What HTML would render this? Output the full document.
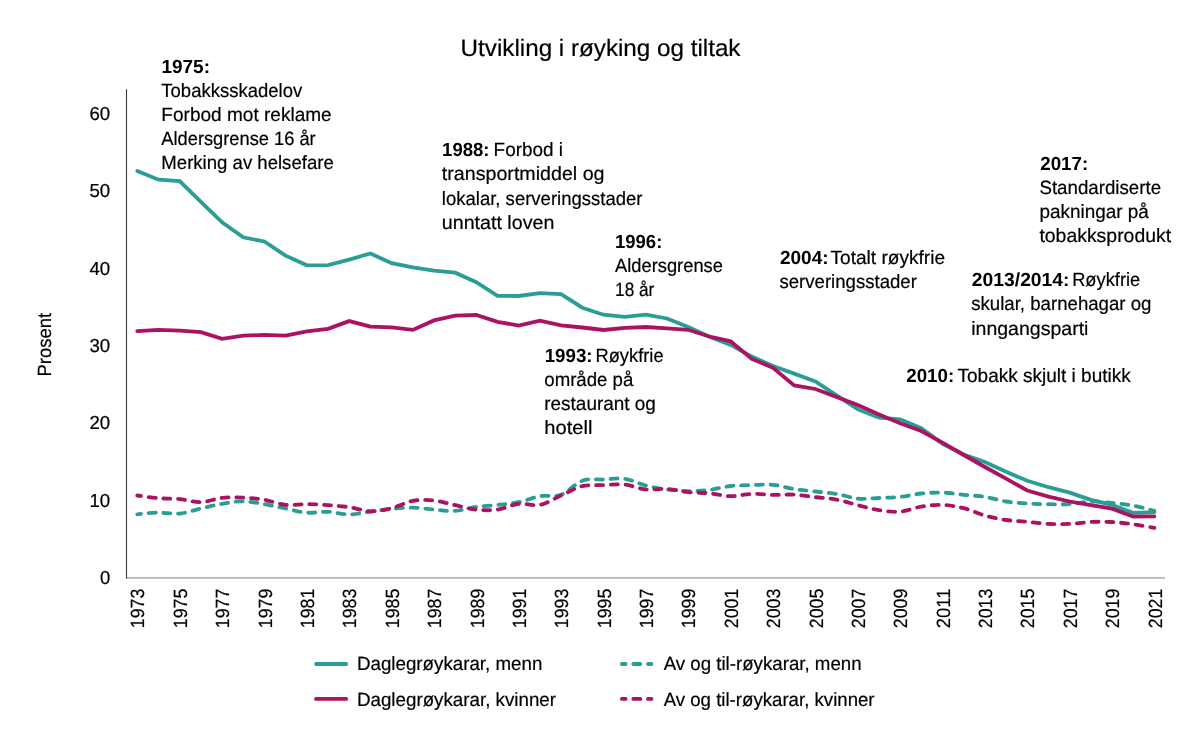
<!DOCTYPE html>
<html lang="nn">
<head>
<meta charset="utf-8">
<title>Utvikling i røyking og tiltak</title>
<style>
html,body{margin:0;padding:0;background:#ffffff;}
body{width:1200px;height:747px;overflow:hidden;font-family:"Liberation Sans",Arial,sans-serif;}
svg{display:block;}
</style>
</head>
<body>
<svg width="1200" height="747" viewBox="0 0 1200 747">
<rect width="1200" height="747" fill="#ffffff"/>
<g id="lines" fill="none" stroke-linecap="round" stroke-linejoin="round" stroke-width="3.8">
<path d="M137.3,514.3 C140.8,514.0 151.4,512.7 158.5,512.6 C165.6,512.5 172.6,514.3 179.7,513.6 C186.7,512.9 193.8,510.1 200.9,508.5 C207.9,506.9 215.0,505.0 222.1,503.8 C229.1,502.6 236.2,501.2 243.2,501.3 C250.3,501.4 257.4,503.0 264.4,504.2 C271.5,505.4 278.6,507.1 285.6,508.5 C292.7,509.9 299.8,512.2 306.8,512.7 C313.9,513.2 320.9,511.5 328.0,511.8 C335.1,512.1 342.1,514.5 349.2,514.5 C356.3,514.5 363.3,512.5 370.4,511.6 C377.5,510.7 384.5,509.6 391.6,508.9 C398.6,508.2 405.7,507.5 412.8,507.6 C419.8,507.7 426.9,509.1 434.0,509.6 C441.0,510.2 448.1,511.3 455.2,510.9 C462.2,510.4 469.3,507.9 476.3,506.9 C483.4,505.9 490.5,505.7 497.5,504.9 C504.6,504.1 511.7,503.6 518.7,502.2 C525.8,500.8 532.8,497.4 539.9,496.2 C547.0,495.0 554.0,497.4 561.1,494.8 C568.2,492.2 575.2,483.4 582.3,480.8 C589.4,478.2 596.4,479.8 603.5,479.5 C610.5,479.2 617.6,477.8 624.7,478.8 C631.7,479.8 638.8,483.7 645.9,485.5 C652.9,487.3 660.0,488.6 667.0,489.5 C674.1,490.4 681.2,491.0 688.2,491.1 C695.3,491.2 702.4,490.8 709.4,489.9 C716.5,489.0 723.6,486.8 730.6,486.0 C737.7,485.2 744.7,485.3 751.8,485.1 C758.9,484.9 765.9,484.1 773.0,484.8 C780.1,485.5 787.1,488.0 794.2,489.1 C801.3,490.2 808.3,490.7 815.4,491.5 C822.4,492.3 829.5,492.7 836.6,493.9 C843.6,495.1 850.7,497.9 857.8,498.6 C864.8,499.3 871.9,498.3 879.0,498.0 C886.0,497.7 893.1,497.6 900.1,496.9 C907.2,496.1 914.3,494.2 921.3,493.5 C928.4,492.8 935.5,492.4 942.5,492.6 C949.6,492.8 956.6,494.1 963.7,494.8 C970.8,495.5 977.8,495.8 984.9,496.9 C992.0,498.0 999.0,500.4 1006.1,501.5 C1013.2,502.6 1020.2,503.1 1027.3,503.5 C1034.3,503.9 1041.4,504.1 1048.5,504.2 C1055.5,504.3 1062.6,504.4 1069.7,504.0 C1076.7,503.6 1083.8,501.7 1090.9,501.5 C1097.9,501.3 1105.0,502.2 1112.0,502.9 C1119.1,503.6 1126.2,504.3 1133.2,505.6 C1140.3,506.9 1150.9,510.0 1154.4,510.9" stroke="#2a9d94" stroke-dasharray="7 7.724" stroke-dashoffset="3.3"/>
<path d="M137.3,170.9 L158.5,179.7 L179.7,181.1 L200.9,201.8 L222.1,222.3 L243.2,237.3 L264.4,241.5 L285.6,255.7 L306.8,265.3 L328.0,265.2 L349.2,259.6 L370.4,253.5 L391.6,263.2 L412.8,267.3 L434.0,270.7 L455.2,272.7 L476.3,282.2 L497.5,295.9 L518.7,296.0 L539.9,293.2 L561.1,294.2 L582.3,307.7 L603.5,314.7 L624.7,316.9 L645.9,314.7 L667.0,318.5 L688.2,327.1 L709.4,336.8 L730.6,344.9 L751.8,356.6 L773.0,366.1 L794.2,373.6 L815.4,381.5 L836.6,395.4 L857.8,409.4 L879.0,417.6 L900.1,419.3 L921.3,428.2 L942.5,443.9 L963.7,454.5 L984.9,462.0 L1006.1,471.7 L1027.3,480.8 L1048.5,487.2 L1069.7,492.6 L1090.9,499.8 L1112.0,504.9 L1133.2,512.9 L1154.4,512.2" stroke="#2a9d94" stroke-linejoin="miter"/>
<path d="M137.3,331.2 L158.5,329.8 L179.7,330.7 L200.9,332.2 L222.1,338.9 L243.2,335.7 L264.4,334.9 L285.6,335.7 L306.8,331.4 L328.0,328.8 L349.2,321.1 L370.4,326.6 L391.6,327.4 L412.8,329.9 L434.0,320.4 L455.2,315.7 L476.3,315.0 L497.5,321.8 L518.7,325.6 L539.9,320.6 L561.1,325.3 L582.3,327.5 L603.5,330.0 L624.7,327.8 L645.9,327.0 L667.0,328.4 L688.2,329.8 L709.4,336.5 L730.6,341.3 L751.8,358.9 L773.0,367.8 L794.2,385.4 L815.4,389.0 L836.6,397.1 L857.8,404.9 L879.0,414.6 L900.1,423.2 L921.3,431.0 L942.5,442.7 L963.7,455.0 L984.9,467.0 L1006.1,478.7 L1027.3,490.5 L1048.5,496.6 L1069.7,501.5 L1090.9,505.2 L1112.0,508.6 L1133.2,516.5 L1154.4,516.3" stroke="#ab1262" stroke-linejoin="miter"/>
<path d="M137.3,495.5 C140.8,495.9 151.4,497.6 158.5,498.2 C165.6,498.8 172.6,498.4 179.7,499.1 C186.7,499.8 193.8,502.4 200.9,502.2 C207.9,502.0 215.0,498.6 222.1,497.9 C229.1,497.1 236.2,497.4 243.2,497.7 C250.3,498.0 257.4,498.6 264.4,499.8 C271.5,501.0 278.6,504.2 285.6,504.9 C292.7,505.6 299.8,504.1 306.8,504.2 C313.9,504.2 320.9,504.7 328.0,505.2 C335.1,505.7 342.1,506.2 349.2,507.2 C356.3,508.2 363.3,511.1 370.4,511.3 C377.5,511.5 384.5,509.9 391.6,508.2 C398.6,506.5 405.7,502.2 412.8,500.9 C419.8,499.6 426.9,499.8 434.0,500.5 C441.0,501.2 448.1,503.7 455.2,505.2 C462.2,506.7 469.3,508.9 476.3,509.6 C483.4,510.3 490.5,510.6 497.5,509.6 C504.6,508.6 511.7,504.6 518.7,503.8 C525.8,503.0 532.8,506.3 539.9,504.9 C547.0,503.5 554.0,498.6 561.1,495.5 C568.2,492.4 575.2,487.9 582.3,486.2 C589.4,484.5 596.4,485.4 603.5,485.1 C610.5,484.8 617.6,483.9 624.7,484.6 C631.7,485.3 638.8,488.8 645.9,489.5 C652.9,490.2 660.0,488.4 667.0,488.9 C674.1,489.3 681.2,491.5 688.2,492.2 C695.3,492.9 702.4,492.6 709.4,493.3 C716.5,494.0 723.6,496.1 730.6,496.2 C737.7,496.3 744.7,494.1 751.8,493.9 C758.9,493.7 765.9,494.8 773.0,494.9 C780.1,495.0 787.1,494.2 794.2,494.6 C801.3,495.0 808.3,496.4 815.4,497.2 C822.4,498.0 829.5,498.3 836.6,499.6 C843.6,500.9 850.7,503.4 857.8,505.2 C864.8,506.9 871.9,509.0 879.0,510.1 C886.0,511.2 893.1,512.2 900.1,511.6 C907.2,511.0 914.3,507.7 921.3,506.6 C928.4,505.5 935.5,504.6 942.5,504.9 C949.6,505.2 956.6,506.4 963.7,508.2 C970.8,510.0 977.8,513.6 984.9,515.6 C992.0,517.6 999.0,519.0 1006.1,520.0 C1013.2,521.0 1020.2,521.1 1027.3,521.8 C1034.3,522.4 1041.4,523.5 1048.5,523.9 C1055.5,524.2 1062.6,524.2 1069.7,523.9 C1076.7,523.6 1083.8,522.3 1090.9,522.0 C1097.9,521.7 1105.0,521.6 1112.0,522.0 C1119.1,522.4 1126.2,523.3 1133.2,524.3 C1140.3,525.3 1150.9,527.3 1154.4,527.9" stroke="#ab1262" stroke-dasharray="7 7.745" stroke-dashoffset="3.3"/>
<path d="M316.0,664 H346.2" stroke="#2a9d94"/>
<path d="M316.0,698.9 H346.2" stroke="#ab1262"/>
<path d="M621.9,664 H651.5" stroke="#2a9d94" stroke-dasharray="7 7.7" stroke-dashoffset="3.3"/>
<path d="M621.9,698.9 H651.5" stroke="#ab1262" stroke-dasharray="7 7.7" stroke-dashoffset="3.3"/>
</g>
<g id="axes" fill="none">
<path d="M126,577.9 H1164.9" stroke="#b7b7b7" stroke-width="1.6"/>
<path d="M126.5,89.3 V578.4" stroke="#3c3c3c" stroke-width="1.1"/>
</g>
<g id="labels" font-family="'Liberation Sans', Arial, sans-serif" fill="#000000" text-rendering="geometricPrecision">
<text id="t_title" x="460.64" y="56.3" font-size="23.8" stroke="#000000" stroke-width="0.2" textLength="279.83" lengthAdjust="spacingAndGlyphs" transform="rotate(0.01 460.64 56.3)">Utvikling i røyking og tiltak</text>
<text id="t_a1" x="161.47" y="72.6" font-size="19.0" font-weight="700" textLength="48.53" lengthAdjust="spacingAndGlyphs" transform="rotate(0.01 161.47 72.6)">1975:</text>
<text id="t_a2" x="161.34" y="96.8" font-size="19.3" stroke="#000000" stroke-width="0.2" textLength="140.88" lengthAdjust="spacingAndGlyphs" transform="rotate(0.01 161.34 96.8)">Tobakksskadelov</text>
<text id="t_a3" x="161.34" y="120.9" font-size="19.3" stroke="#000000" stroke-width="0.2" textLength="170.38" lengthAdjust="spacingAndGlyphs" transform="rotate(0.01 161.34 120.9)">Forbod mot reklame</text>
<text id="t_a4" x="161.34" y="145.0" font-size="19.3" stroke="#000000" stroke-width="0.2" textLength="154.34" lengthAdjust="spacingAndGlyphs" transform="rotate(0.01 161.34 145.0)">Aldersgrense 16 år</text>
<text id="t_a5" x="161.34" y="169.1" font-size="19.3" stroke="#000000" stroke-width="0.2" textLength="172.41" lengthAdjust="spacingAndGlyphs" transform="rotate(0.01 161.34 169.1)">Merking av helsefare</text>
<text id="t_b1" x="442.12" y="156.3" font-size="19.0" font-weight="700" textLength="47.38" lengthAdjust="spacingAndGlyphs" transform="rotate(0.01 442.12 156.3)">1988:</text>
<text id="t_b1b" x="493.60" y="156.3" font-size="19.3" stroke="#000000" stroke-width="0.2" textLength="69.41" lengthAdjust="spacingAndGlyphs" transform="rotate(0.01 493.60 156.3)">Forbod i</text>
<text id="t_b2" x="441.82" y="180.4" font-size="19.3" stroke="#000000" stroke-width="0.2" textLength="162.72" lengthAdjust="spacingAndGlyphs" transform="rotate(0.01 441.82 180.4)">transportmiddel og</text>
<text id="t_b3" x="441.82" y="204.5" font-size="19.3" stroke="#000000" stroke-width="0.2" textLength="200.68" lengthAdjust="spacingAndGlyphs" transform="rotate(0.01 441.82 204.5)">lokalar, serveringsstader</text>
<text id="t_b4" x="441.82" y="228.6" font-size="19.3" stroke="#000000" stroke-width="0.2" textLength="112.53" lengthAdjust="spacingAndGlyphs" transform="rotate(0.01 441.82 228.6)">unntatt loven</text>
<text id="t_c1" x="614.97" y="247.9" font-size="19.0" font-weight="700" textLength="47.36" lengthAdjust="spacingAndGlyphs" transform="rotate(0.01 614.97 247.9)">1996:</text>
<text id="t_c2" x="615.06" y="272.0" font-size="19.3" stroke="#000000" stroke-width="0.2" textLength="107.87" lengthAdjust="spacingAndGlyphs" transform="rotate(0.01 615.06 272.0)">Aldersgrense</text>
<text id="t_c3" x="615.06" y="296.1" font-size="19.3" stroke="#000000" stroke-width="0.2" textLength="39.30" lengthAdjust="spacingAndGlyphs" transform="rotate(0.01 615.06 296.1)">18 år</text>
<text id="t_d1" x="544.70" y="362.1" font-size="19.0" font-weight="700" textLength="47.84" lengthAdjust="spacingAndGlyphs" transform="rotate(0.01 544.70 362.1)">1993:</text>
<text id="t_d1b" x="595.50" y="362.1" font-size="19.3" stroke="#000000" stroke-width="0.2" textLength="68.06" lengthAdjust="spacingAndGlyphs" transform="rotate(0.01 595.50 362.1)">Røykfrie</text>
<text id="t_d2" x="544.29" y="386.2" font-size="19.3" stroke="#000000" stroke-width="0.2" textLength="89.01" lengthAdjust="spacingAndGlyphs" transform="rotate(0.01 544.29 386.2)">område på</text>
<text id="t_d3" x="544.29" y="410.2" font-size="19.3" stroke="#000000" stroke-width="0.2" textLength="111.61" lengthAdjust="spacingAndGlyphs" transform="rotate(0.01 544.29 410.2)">restaurant og</text>
<text id="t_d4" x="544.29" y="434.3" font-size="19.3" stroke="#000000" stroke-width="0.2" textLength="48.14" lengthAdjust="spacingAndGlyphs" transform="rotate(0.01 544.29 434.3)">hotell</text>
<text id="t_e1" x="779.96" y="263.5" font-size="19.0" font-weight="700" textLength="48.59" lengthAdjust="spacingAndGlyphs" transform="rotate(0.01 779.96 263.5)">2004:</text>
<text id="t_e1b" x="830.50" y="263.5" font-size="19.3" stroke="#000000" stroke-width="0.2" textLength="114.59" lengthAdjust="spacingAndGlyphs" transform="rotate(0.01 830.50 263.5)">Totalt røykfrie</text>
<text id="t_e2" x="779.44" y="287.7" font-size="19.3" stroke="#000000" stroke-width="0.2" textLength="137.47" lengthAdjust="spacingAndGlyphs" transform="rotate(0.01 779.44 287.7)">serveringsstader</text>
<text id="t_f1" x="1040.28" y="169.9" font-size="19.0" font-weight="700" textLength="47.93" lengthAdjust="spacingAndGlyphs" transform="rotate(0.01 1040.28 169.9)">2017:</text>
<text id="t_f2" x="1039.41" y="194.0" font-size="19.3" stroke="#000000" stroke-width="0.2" textLength="121.71" lengthAdjust="spacingAndGlyphs" transform="rotate(0.01 1039.41 194.0)">Standardiserte</text>
<text id="t_f3" x="1039.41" y="218.2" font-size="19.3" stroke="#000000" stroke-width="0.2" textLength="109.48" lengthAdjust="spacingAndGlyphs" transform="rotate(0.01 1039.41 218.2)">pakningar på</text>
<text id="t_f4" x="1039.41" y="242.3" font-size="19.3" stroke="#000000" stroke-width="0.2" textLength="131.70" lengthAdjust="spacingAndGlyphs" transform="rotate(0.01 1039.41 242.3)">tobakksprodukt</text>
<text id="t_g1" x="971.89" y="285.9" font-size="19.0" font-weight="700" textLength="97.59" lengthAdjust="spacingAndGlyphs" transform="rotate(0.01 971.89 285.9)">2013/2014:</text>
<text id="t_g1b" x="1072.16" y="285.9" font-size="19.3" stroke="#000000" stroke-width="0.2" textLength="68.06" lengthAdjust="spacingAndGlyphs" transform="rotate(0.01 1072.16 285.9)">Røykfrie</text>
<text id="t_g2" x="971.20" y="310.3" font-size="19.3" stroke="#000000" stroke-width="0.2" textLength="180.27" lengthAdjust="spacingAndGlyphs" transform="rotate(0.01 971.20 310.3)">skular, barnehagar og</text>
<text id="t_g3" x="971.20" y="334.5" font-size="19.3" stroke="#000000" stroke-width="0.2" textLength="117.21" lengthAdjust="spacingAndGlyphs" transform="rotate(0.01 971.20 334.5)">inngangsparti</text>
<text id="t_h1" x="906.28" y="382.4" font-size="19.0" font-weight="700" textLength="47.93" lengthAdjust="spacingAndGlyphs" transform="rotate(0.01 906.28 382.4)">2010:</text>
<text id="t_h1b" x="957.50" y="382.4" font-size="19.3" stroke="#000000" stroke-width="0.2" textLength="173.23" lengthAdjust="spacingAndGlyphs" transform="rotate(0.01 957.50 382.4)">Tobakk skjult i butikk</text>
<text id="t_l1" x="356.97" y="670.4" font-size="19.1" stroke="#000000" stroke-width="0.2" textLength="185.36" lengthAdjust="spacingAndGlyphs" transform="rotate(0.01 356.97 670.4)">Daglegrøykarar, menn</text>
<text id="t_l2" x="356.97" y="705.6" font-size="19.1" stroke="#000000" stroke-width="0.2" textLength="199.07" lengthAdjust="spacingAndGlyphs" transform="rotate(0.01 356.97 705.6)">Daglegrøykarar, kvinner</text>
<text id="t_l3" x="663.68" y="670.4" font-size="19.1" stroke="#000000" stroke-width="0.2" textLength="197.91" lengthAdjust="spacingAndGlyphs" transform="rotate(0.01 663.68 670.4)">Av og til-røykarar, menn</text>
<text id="t_l4" x="663.68" y="705.6" font-size="19.1" stroke="#000000" stroke-width="0.2" textLength="210.91" lengthAdjust="spacingAndGlyphs" transform="rotate(0.01 663.68 705.6)">Av og til-røykarar, kvinner</text>
<text id="t_y0" x="99.95" y="583.95" font-size="18.8" stroke="#000000" stroke-width="0.2" textLength="10.25" lengthAdjust="spacingAndGlyphs" transform="rotate(0.01 99.95 583.95)">0</text>
<text id="t_y10" x="89.44" y="506.62" font-size="18.8" stroke="#000000" stroke-width="0.2" textLength="20.72" lengthAdjust="spacingAndGlyphs" transform="rotate(0.01 89.44 506.62)">10</text>
<text id="t_y20" x="89.44" y="429.29" font-size="18.8" stroke="#000000" stroke-width="0.2" textLength="20.72" lengthAdjust="spacingAndGlyphs" transform="rotate(0.01 89.44 429.29)">20</text>
<text id="t_y30" x="89.44" y="351.96" font-size="18.8" stroke="#000000" stroke-width="0.2" textLength="20.72" lengthAdjust="spacingAndGlyphs" transform="rotate(0.01 89.44 351.96)">30</text>
<text id="t_y40" x="89.44" y="274.63" font-size="18.8" stroke="#000000" stroke-width="0.2" textLength="20.72" lengthAdjust="spacingAndGlyphs" transform="rotate(0.01 89.44 274.63)">40</text>
<text id="t_y50" x="89.44" y="197.3" font-size="18.8" stroke="#000000" stroke-width="0.2" textLength="20.72" lengthAdjust="spacingAndGlyphs" transform="rotate(0.01 89.44 197.3)">50</text>
<text id="t_y60" x="89.44" y="119.97" font-size="18.8" stroke="#000000" stroke-width="0.2" textLength="20.72" lengthAdjust="spacingAndGlyphs" transform="rotate(0.01 89.44 119.97)">60</text>
<text x="51.40" y="376.5" font-size="19.1" stroke="#000000" stroke-width="0.2" textLength="63.60" lengthAdjust="spacingAndGlyphs" transform="rotate(-90.01 51.40 376.5)">Prosent</text>
<text x="144.50" y="628.2" font-size="19.1" stroke="#000000" stroke-width="0.2" textLength="39.60" lengthAdjust="spacingAndGlyphs" transform="rotate(-90.01 144.50 628.2)">1973</text>
<text x="186.88" y="628.2" font-size="19.1" stroke="#000000" stroke-width="0.2" textLength="39.60" lengthAdjust="spacingAndGlyphs" transform="rotate(-90.01 186.88 628.2)">1975</text>
<text x="229.26" y="628.2" font-size="19.1" stroke="#000000" stroke-width="0.2" textLength="39.60" lengthAdjust="spacingAndGlyphs" transform="rotate(-90.01 229.26 628.2)">1977</text>
<text x="271.64" y="628.2" font-size="19.1" stroke="#000000" stroke-width="0.2" textLength="39.60" lengthAdjust="spacingAndGlyphs" transform="rotate(-90.01 271.64 628.2)">1979</text>
<text x="314.02" y="628.2" font-size="19.1" stroke="#000000" stroke-width="0.2" textLength="39.60" lengthAdjust="spacingAndGlyphs" transform="rotate(-90.01 314.02 628.2)">1981</text>
<text x="356.40" y="628.2" font-size="19.1" stroke="#000000" stroke-width="0.2" textLength="39.60" lengthAdjust="spacingAndGlyphs" transform="rotate(-90.01 356.40 628.2)">1983</text>
<text x="398.78" y="628.2" font-size="19.1" stroke="#000000" stroke-width="0.2" textLength="39.60" lengthAdjust="spacingAndGlyphs" transform="rotate(-90.01 398.78 628.2)">1985</text>
<text x="441.16" y="628.2" font-size="19.1" stroke="#000000" stroke-width="0.2" textLength="39.60" lengthAdjust="spacingAndGlyphs" transform="rotate(-90.01 441.16 628.2)">1987</text>
<text x="483.54" y="628.2" font-size="19.1" stroke="#000000" stroke-width="0.2" textLength="39.60" lengthAdjust="spacingAndGlyphs" transform="rotate(-90.01 483.54 628.2)">1989</text>
<text x="525.92" y="628.2" font-size="19.1" stroke="#000000" stroke-width="0.2" textLength="39.60" lengthAdjust="spacingAndGlyphs" transform="rotate(-90.01 525.92 628.2)">1991</text>
<text x="568.30" y="628.2" font-size="19.1" stroke="#000000" stroke-width="0.2" textLength="39.60" lengthAdjust="spacingAndGlyphs" transform="rotate(-90.01 568.30 628.2)">1993</text>
<text x="610.68" y="628.2" font-size="19.1" stroke="#000000" stroke-width="0.2" textLength="39.60" lengthAdjust="spacingAndGlyphs" transform="rotate(-90.01 610.68 628.2)">1995</text>
<text x="653.06" y="628.2" font-size="19.1" stroke="#000000" stroke-width="0.2" textLength="39.60" lengthAdjust="spacingAndGlyphs" transform="rotate(-90.01 653.06 628.2)">1997</text>
<text x="695.44" y="628.2" font-size="19.1" stroke="#000000" stroke-width="0.2" textLength="39.60" lengthAdjust="spacingAndGlyphs" transform="rotate(-90.01 695.44 628.2)">1999</text>
<text x="737.82" y="628.2" font-size="19.1" stroke="#000000" stroke-width="0.2" textLength="39.60" lengthAdjust="spacingAndGlyphs" transform="rotate(-90.01 737.82 628.2)">2001</text>
<text x="780.20" y="628.2" font-size="19.1" stroke="#000000" stroke-width="0.2" textLength="39.60" lengthAdjust="spacingAndGlyphs" transform="rotate(-90.01 780.20 628.2)">2003</text>
<text x="822.58" y="628.2" font-size="19.1" stroke="#000000" stroke-width="0.2" textLength="39.60" lengthAdjust="spacingAndGlyphs" transform="rotate(-90.01 822.58 628.2)">2005</text>
<text x="864.96" y="628.2" font-size="19.1" stroke="#000000" stroke-width="0.2" textLength="39.60" lengthAdjust="spacingAndGlyphs" transform="rotate(-90.01 864.96 628.2)">2007</text>
<text x="907.34" y="628.2" font-size="19.1" stroke="#000000" stroke-width="0.2" textLength="39.60" lengthAdjust="spacingAndGlyphs" transform="rotate(-90.01 907.34 628.2)">2009</text>
<text x="949.72" y="628.2" font-size="19.1" stroke="#000000" stroke-width="0.2" textLength="39.60" lengthAdjust="spacingAndGlyphs" transform="rotate(-90.01 949.72 628.2)">2011</text>
<text x="992.10" y="628.2" font-size="19.1" stroke="#000000" stroke-width="0.2" textLength="39.60" lengthAdjust="spacingAndGlyphs" transform="rotate(-90.01 992.10 628.2)">2013</text>
<text x="1034.48" y="628.2" font-size="19.1" stroke="#000000" stroke-width="0.2" textLength="39.60" lengthAdjust="spacingAndGlyphs" transform="rotate(-90.01 1034.48 628.2)">2015</text>
<text x="1076.86" y="628.2" font-size="19.1" stroke="#000000" stroke-width="0.2" textLength="39.60" lengthAdjust="spacingAndGlyphs" transform="rotate(-90.01 1076.86 628.2)">2017</text>
<text x="1119.24" y="628.2" font-size="19.1" stroke="#000000" stroke-width="0.2" textLength="39.60" lengthAdjust="spacingAndGlyphs" transform="rotate(-90.01 1119.24 628.2)">2019</text>
<text x="1161.62" y="628.2" font-size="19.1" stroke="#000000" stroke-width="0.2" textLength="39.60" lengthAdjust="spacingAndGlyphs" transform="rotate(-90.01 1161.62 628.2)">2021</text>
</g>
</svg>
</body>
</html>
